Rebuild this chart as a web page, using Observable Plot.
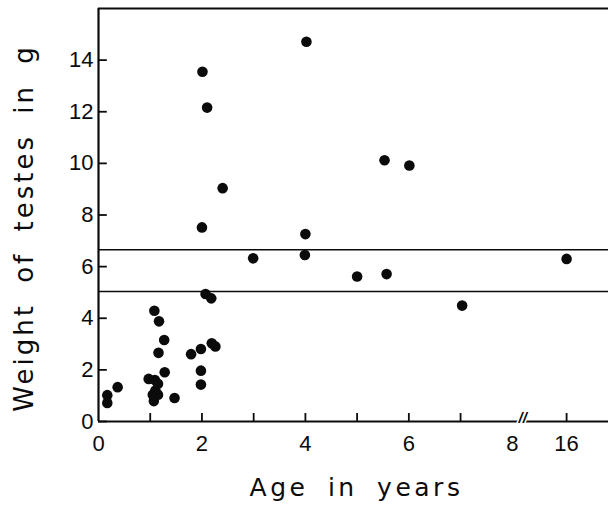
<!DOCTYPE html>
<html>
<head>
<meta charset="utf-8">
<script src="https://cdn.jsdelivr.net/npm/d3@7"></script>
<script src="https://cdn.jsdelivr.net/npm/@observablehq/plot@0.6"></script>
<style>
  body { margin: 0; background: #fff; }
</style>
</head>
<body>
<div id="chart"></div>
<script>
// Age (years) and paired testes weight (g) for each animal
const ages = [
  0.17, 0.17, 0.37,
  0.97, 1.09, 1.15, 1.10, 1.05, 1.15, 1.07,
  1.08, 1.17, 1.27, 1.16, 1.28, 1.47,
  1.79, 1.98, 1.98, 1.98, 2.19, 2.26, 2.07, 2.18,
  2.00, 2.01, 2.10, 2.40, 2.99,
  3.99, 4.00, 4.02, 5.00, 5.53, 5.57, 6.01, 7.03, 16
];
const weights = [
  1.02, 0.72, 1.33,
  1.65, 1.61, 1.46, 1.20, 1.04, 1.04, 0.79,
  4.29, 3.88, 3.16, 2.66, 1.91, 0.91,
  2.61, 2.81, 1.97, 1.43, 3.03, 2.91, 4.94, 4.77,
  7.52, 13.55, 12.16, 9.04, 6.32,
  6.45, 7.26, 14.71, 5.62, 10.12, 5.71, 9.92, 4.49, 6.30
];

// Horizontal reference levels (g)
const refLines = [6.65, 5.04];

// Axis ticks: marks on the inside, labels outside
const xTickMarks = [1, 2, 3, 4, 5, 6, 7, 16];
const xTickLabels = [0, 2, 4, 6, 8, 16];
const yTicks = [0, 2, 4, 6, 8, 10, 12, 14];

// The age axis is broken after 8 years: 16 years sits this far (in years) past 8
const breakStart = 8;
const breakResume = 16;
const breakGap = 1.05;
const breakMark = 8.2;       // where the "//" sits, in axis units
const xMax = 9.86;
const yMax = 16;

const axisPos = (age) => age <= breakStart ? age : breakStart + breakGap + (age - breakResume);
const tickText = new Map(xTickLabels.map((a) => [axisPos(a), String(a)]));

const points = ages.map((age, i) => ({age, weight: weights[i]}));

// tick lengths expressed in axis units (about 8–9 px)
const xTickLen = 0.31;   // g
const yTickLen = 0.17;   // years

const ink = "#0b0b0b";
const titleFont = "'DejaVu Sans', sans-serif";

const chart = Plot.plot({
  width: 608,
  height: 505,
  marginLeft: 98,
  marginRight: 0,
  marginTop: 8,
  marginBottom: 84,
  style: {fontFamily: "'Liberation Sans', sans-serif", fontSize: "22px", background: "transparent", color: ink},
  x: {domain: [0, xMax], label: null},
  y: {domain: [0, yMax], label: null},
  marks: [
    Plot.ruleY(refLines, {stroke: ink, strokeWidth: 1.5}),
    Plot.ruleY([yMax], {stroke: ink, strokeWidth: 2.2}),
    Plot.ruleY([0], {stroke: ink, strokeWidth: 2}),
    Plot.ruleX([0], {stroke: ink, strokeWidth: 2.2}),
    // inward tick marks
    Plot.ruleX(xTickMarks.map(axisPos), {x: (d) => d, y1: 0, y2: xTickLen, stroke: ink, strokeWidth: 1.8}),
    Plot.ruleY(yTicks, {y: (d) => d, x1: 0, x2: yTickLen, stroke: ink, strokeWidth: 1.8}),
    // tick labels
    Plot.axisX({ticks: xTickLabels.map(axisPos), tickSize: 0, tickPadding: 14, tickFormat: (v) => tickText.get(v)}),
    Plot.axisY({ticks: yTicks, tickSize: 0, tickPadding: 5, tickFormat: (v) => String(v)}),
    Plot.text(["//"], {
      x: breakMark, y: 0, text: (d) => d, dy: -3,
      fontSize: 15, fontStyle: "italic", fontWeight: "bold",
      fill: ink, stroke: "white", strokeWidth: 3, paintOrder: "stroke"
    }),
    Plot.dot(points, {x: (d) => axisPos(d.age), y: "weight", r: 5.3, fill: ink, stroke: null}),
    Plot.text(["Age in years"], {
      text: (d) => d, frameAnchor: "bottom", textAnchor: "middle", lineAnchor: "bottom", dx: 3, dy: 74,
      fontSize: 25, fontFamily: titleFont, fill: ink
    }),
    Plot.text(["Weight of testes in g"], {
      text: (d) => d, frameAnchor: "left", textAnchor: "middle", rotate: -90, lineAnchor: "bottom", dx: -66, dy: 13,
      fontSize: 26, fontFamily: titleFont, fill: ink
    })
  ]
});

// spaced-out lettering for the two axis titles
d3.select(chart).selectAll("text")
  .filter(function () { return this.textContent === "Age in years"; })
  .style("letter-spacing", "3.5px").style("word-spacing", "8px");
d3.select(chart).selectAll("text")
  .filter(function () { return this.textContent === "Weight of testes in g"; })
  .style("letter-spacing", "3px").style("word-spacing", "9px");

document.getElementById("chart").appendChild(chart);
</script>
</body>
</html>
